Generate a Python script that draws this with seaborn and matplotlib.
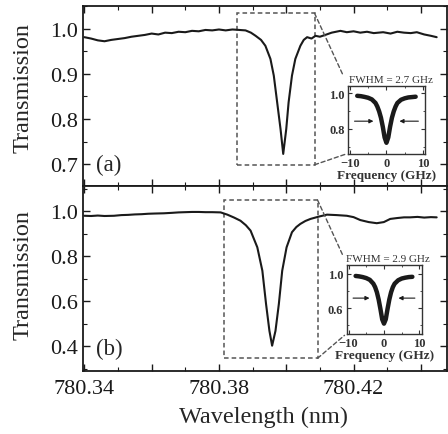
import numpy as np
import matplotlib
matplotlib.use("Agg")
import matplotlib.pyplot as plt
from matplotlib.patches import Rectangle, ConnectionPatch
from matplotlib.ticker import MultipleLocator, FixedLocator
import seaborn as sns

# ---- data ----
wl_a = [780.3400, 780.3420, 780.3440, 780.3460, 780.3480, 780.3500, 780.3520, 780.3540,
        780.3560, 780.3580, 780.3600, 780.3620, 780.3640, 780.3660, 780.3680, 780.3700,
        780.3720, 780.3740, 780.3760, 780.3780, 780.3800, 780.3820, 780.3840, 780.3860,
        780.3879, 780.3895, 780.3909, 780.3925, 780.3938, 780.3953, 780.3963, 780.3973,
        780.3983, 780.3991, 780.4000, 780.4007, 780.4017, 780.4027, 780.4042, 780.4052,
        780.4062, 780.4075, 780.4087, 780.4100, 780.4116, 780.4135, 780.4161, 780.4180,
        780.4200, 780.4220, 780.4240, 780.4260, 780.4288, 780.4310, 780.4330, 780.4350,
        780.4370, 780.4388, 780.4410, 780.4430, 780.4447]
trans_a = [0.981, 0.978, 0.974, 0.972, 0.975, 0.977, 0.979, 0.982, 0.984, 0.986, 0.989, 0.987,
           0.991, 0.990, 0.993, 0.992, 0.995, 0.994, 0.997, 0.996, 0.998, 0.996, 0.998, 0.997,
           0.996, 0.991, 0.984, 0.975, 0.962, 0.933, 0.896, 0.837, 0.778, 0.723,
           0.778, 0.837, 0.896, 0.933, 0.962, 0.975, 0.981, 0.978, 0.984, 0.982,
           0.986, 0.991, 0.995, 0.992, 0.994, 0.991, 0.993, 0.990, 0.992, 0.989,
           0.993, 0.991, 0.990, 0.992, 0.987, 0.984, 0.981]

wl_b = [780.3400, 780.3420, 780.3440, 780.3460, 780.3488, 780.3510, 780.3530, 780.3550,
        780.3570, 780.3590, 780.3610, 780.3636, 780.3660, 780.3680, 780.3700, 780.3720,
        780.3740, 780.3760, 780.3780, 780.3805, 780.3825, 780.3845, 780.3864, 780.3880,
        780.3894, 780.3914, 780.3929, 780.3940, 780.3950, 780.3958, 780.3968, 780.3978,
        780.3988, 780.4001, 780.4017, 780.4030, 780.4042, 780.4057, 780.4072, 780.4096,
        780.4121, 780.4150, 780.4180, 780.4200, 780.4220, 780.4245, 780.4269, 780.4290,
        780.4309, 780.4330, 780.4350, 780.4368, 780.4390, 780.4410, 780.4430, 780.4447]
trans_b = [0.980, 0.979, 0.981, 0.979, 0.980, 0.983, 0.984, 0.986, 0.987, 0.989,
           0.990, 0.991, 0.993, 0.995, 0.996, 0.997, 0.997, 0.996, 0.996, 0.995,
           0.985, 0.972, 0.958, 0.938, 0.914, 0.840, 0.736, 0.588, 0.469, 0.403,
           0.469, 0.588, 0.736, 0.840, 0.907, 0.930, 0.944, 0.957, 0.966, 0.976,
           0.985, 0.983, 0.980, 0.974, 0.961, 0.952, 0.947, 0.952, 0.966, 0.970,
           0.973, 0.973, 0.975, 0.972, 0.974, 0.973]

# insets: transmission vs detuning
freq = [-8, -7, -6, -5, -4, -3, -2.5, -2, -1.5, -1, -0.5, 0,
        0.5, 1, 1.5, 2, 2.5, 3, 4, 5, 6, 7, 8]
inset_a = [0.985, 0.983, 0.979, 0.974, 0.965, 0.945, 0.925, 0.898, 0.862, 0.812, 0.752, 0.722,
           0.752, 0.812, 0.862, 0.898, 0.925, 0.945, 0.963, 0.971, 0.976, 0.978, 0.980]
inset_b = [0.975, 0.970, 0.962, 0.950, 0.930, 0.885, 0.845, 0.785, 0.700, 0.590, 0.470, 0.420,
           0.470, 0.590, 0.700, 0.785, 0.845, 0.885, 0.925, 0.945, 0.955, 0.962, 0.965]

fwhm_labels = ["FWHM = 2.7 GHz", "FWHM = 2.9 GHz"]
panel_labels = ["(a)", "(b)"]
xtick_vals = [780.34, 780.36, 780.38, 780.40, 780.42, 780.44]
xtick_text = ["780.34", "", "780.38", "", "780.42", ""]

# zoom boxes (wavelength lo, hi, T lo, hi)
box_a = [780.3855, 780.4084, 0.699, 1.034]
box_b = [780.3815, 780.4093, 0.347, 1.050]

sns.set_theme(style="ticks")
plt.rcParams['font.family'] = ['Liberation Serif', 'DejaVu Serif']
plt.rcParams['axes.unicode_minus'] = True

fig = plt.figure(figsize=(4.48, 4.35), dpi=100)
ax1 = fig.add_axes([0.186, 0.570, 0.812, 0.414])
ax2 = fig.add_axes([0.186, 0.145, 0.812, 0.425])
ins_a = fig.add_axes([0.777, 0.644, 0.172, 0.156])
ins_b = fig.add_axes([0.774, 0.230, 0.167, 0.159])

sns.lineplot(x=wl_a, y=trans_a, ax=ax1, color='k', lw=1.5, sort=False, estimator=None)
sns.lineplot(x=wl_b, y=trans_b, ax=ax2, color='k', lw=1.5, sort=False, estimator=None)

for ax in (ax1, ax2):
    ax.set_xlim(780.3397, 780.4478)
    ax.xaxis.set_major_locator(FixedLocator(xtick_vals))
    ax.xaxis.set_minor_locator(MultipleLocator(0.01))
    ax.tick_params(which='both', direction='in', top=True, right=True, colors='k')
    ax.tick_params(which='major', length=5, width=1.0, labelsize=16)
    ax.tick_params(which='minor', length=3, width=0.8)
    for s in ax.spines.values():
        s.set_linewidth(1.3)
        s.set_color('k')

ax1.set_ylim(0.652, 1.050)
ax1.yaxis.set_minor_locator(MultipleLocator(0.05))
ax1.set_yticks([0.7, 0.8, 0.9, 1.0], ["0.7", "0.8", "0.9", "1.0"])
ax1.tick_params(axis='x', labelbottom=False)

ax2.set_ylim(0.291, 1.112)
ax2.yaxis.set_minor_locator(MultipleLocator(0.1))
ax2.set_yticks([0.4, 0.6, 0.8, 1.0], ["0.4", "0.6", "0.8", "1.0"])
ax2.set_xticklabels(xtick_text)
ax2.tick_params(axis='x', pad=6)

ax1.set_ylabel("Transmission", fontsize=17.5)
ax2.set_ylabel("Transmission", fontsize=17.5)
ax1.yaxis.set_label_coords(-0.138, 0.55)
ax2.yaxis.set_label_coords(-0.138, 0.524)
ax2.set_xlabel("Wavelength (nm)", fontsize=17.5)
ax2.xaxis.set_label_coords(0.494, -0.19)

for ax, lab in zip((ax1, ax2), panel_labels):
    ax.text(0.036, 0.12, lab, transform=ax.transAxes, fontsize=16.5, va='center', ha='left')

# dashed zoom boxes and connectors
for ax, box in zip((ax1, ax2), (box_a, box_b)):
    ax.add_patch(Rectangle((box[0], box[2]), box[1] - box[0], box[3] - box[2],
                           fill=False, ec='#555555', lw=1.1, ls=(0, (3, 2))))

conns = [(ax1, box_a, ins_a, (-0.07, 1.17), (-0.02, 0.0)),
         (ax2, box_b, ins_b, (-0.05, 1.13), (-0.03, -0.02))]
for ax, box, ins, p_top, p_bot in conns:
    for yb, pt in ((box[3], p_top), (box[2], p_bot)):
        con = ConnectionPatch(xyA=(box[1], yb), coordsA=ax.transData,
                              xyB=pt, coordsB=ins.transAxes,
                              color='#555555', lw=1.0, ls=(0, (3, 2)))
        fig.add_artist(con)

# insets
inset_cfg = [(ins_a, inset_a, (0.66, 1.04), [0.8, 1.0], ["0.8", "1.0"], 0.1, 0.843, 2.8, fwhm_labels[0]),
             (ins_b, inset_b, (0.30, 1.105), [0.6, 1.0], ["0.6", "1.0"], 0.2, 0.717, 3.3, fwhm_labels[1])]
for ins, yy, ylim, yt, ytl, ymin, arr_y, arr_x, flab in inset_cfg:
    ins.set_facecolor('white')
    sns.lineplot(x=freq, y=yy, ax=ins, color='k', lw=3.2, sort=False, estimator=None)
    ins.set_xlim(-10.5, 10.6)
    ins.set_ylim(*ylim)
    ins.set_xticks([-10, 0, 10], ["\u221210", "0", "10"])
    ins.xaxis.set_minor_locator(MultipleLocator(5))
    ins.set_yticks(yt, ytl)
    ins.yaxis.set_minor_locator(MultipleLocator(ymin))
    ins.tick_params(which='both', direction='in', top=True, right=True, colors='#333333')
    ins.tick_params(which='major', length=3, width=0.8, labelsize=9, pad=2.5)
    ins.tick_params(which='minor', length=1.5, width=0.6)
    for t in ins.get_xticklabels() + ins.get_yticklabels():
        t.set_fontweight('bold')
        t.set_color('#333333')
    for s in ins.spines.values():
        s.set_linewidth(1.0)
        s.set_color('#333333')
    ins.set_xlabel("Frequency (GHz)", fontsize=9.5, fontweight='bold', color='#333333', labelpad=0)
    ins.text(0.55, 1.03, flab, transform=ins.transAxes, fontsize=8, color='#333333',
             ha='center', va='bottom')
    ins.annotate('', xy=(-arr_x, arr_y), xytext=(-9.5, arr_y),
                 arrowprops=dict(arrowstyle='-|>', color='k', lw=0.8, mutation_scale=6))
    ins.annotate('', xy=(arr_x, arr_y), xytext=(9.5, arr_y),
                 arrowprops=dict(arrowstyle='-|>', color='k', lw=0.8, mutation_scale=6))

fig.savefig("out.png", dpi=100)
